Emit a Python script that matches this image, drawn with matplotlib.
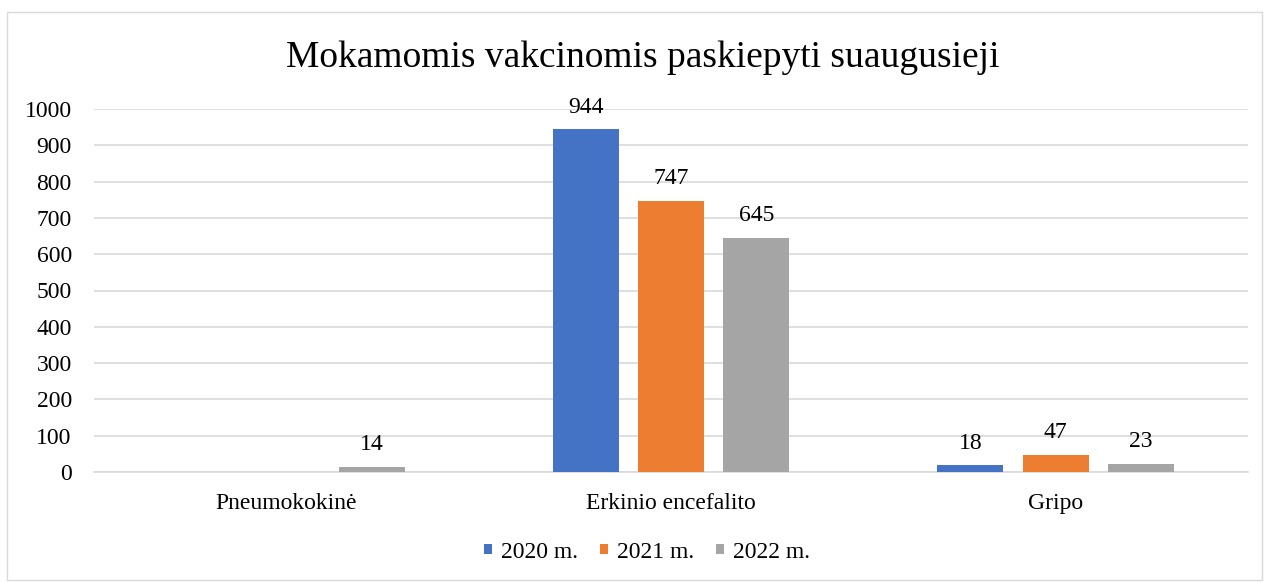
import numpy as np
import matplotlib.pyplot as plt
from matplotlib.patches import Rectangle

# data
categories = ['Pneumokokinė', 'Erkinio encefalito', 'Gripo']
years = ['2020 m.', '2021 m.', '2022 m.']
v2020 = [np.nan, 944, 18]
v2021 = [np.nan, 747, 47]
v2022 = [14, 645, 23]
colors = ['#4472c4', '#ed7d31', '#a5a5a5']

plt.rcParams['font.family'] = ['Liberation Serif', 'DejaVu Serif']

fig = plt.figure(figsize=(12.69, 5.82), dpi=100)
ax = fig.add_axes([94 / 1269, 1 - 472 / 582, (1248 - 94) / 1269, (472 - 109) / 582])

# outer frame like the excel chart border
fig.patches.append(Rectangle((7 / 1269, 2 / 582), 1255 / 1269, 568 / 582,
                             transform=fig.transFigure, fill=False,
                             edgecolor='#d9d9d9', linewidth=1))

x = np.arange(len(categories))
width = 0.172
step = 0.222
series = [v2020, v2021, v2022]
for i, vals in enumerate(series):
    pos = x + (i - 1) * step
    ax.bar(pos, vals, width, color=colors[i], label=years[i], zorder=3)
    for xp, v in zip(pos, vals):
        if not np.isnan(v):
            ax.annotate(f'{int(v)}', (xp, v), xytext=(0, 12), textcoords='offset points',
                        ha='center', va='baseline', fontsize=17)

ax.set_xlim(-0.5, 2.5)
ax.set_ylim(0, 1000)
ax.set_yticks(range(0, 1001, 100))
ax.set_xticks(x)
ax.set_xticklabels(categories, fontsize=17)
ax.tick_params(axis='y', labelsize=17, length=0, pad=16)
ax.tick_params(axis='x', length=0, pad=15)
ax.grid(axis='y', color='#d9d9d9', linewidth=1.2, zorder=0)
for s in ['top', 'right', 'left']:
    ax.spines[s].set_visible(False)
ax.spines['bottom'].set_color('#d9d9d9')
ax.spines['bottom'].set_linewidth(1.2)

fig.text(643 / 1269, 1 - 58 / 582, 'Mokamomis vakcinomis paskiepyti suaugusieji',
         ha='center', va='center', fontsize=27)

fig.legend(loc='center', bbox_to_anchor=(647 / 1269, 1 - 552 / 582), ncol=3,
           frameon=False, fontsize=17, handlelength=0.36, handleheight=0.24,
           handletextpad=0.38, columnspacing=0.9)

fig.savefig('out.png', dpi=100)
